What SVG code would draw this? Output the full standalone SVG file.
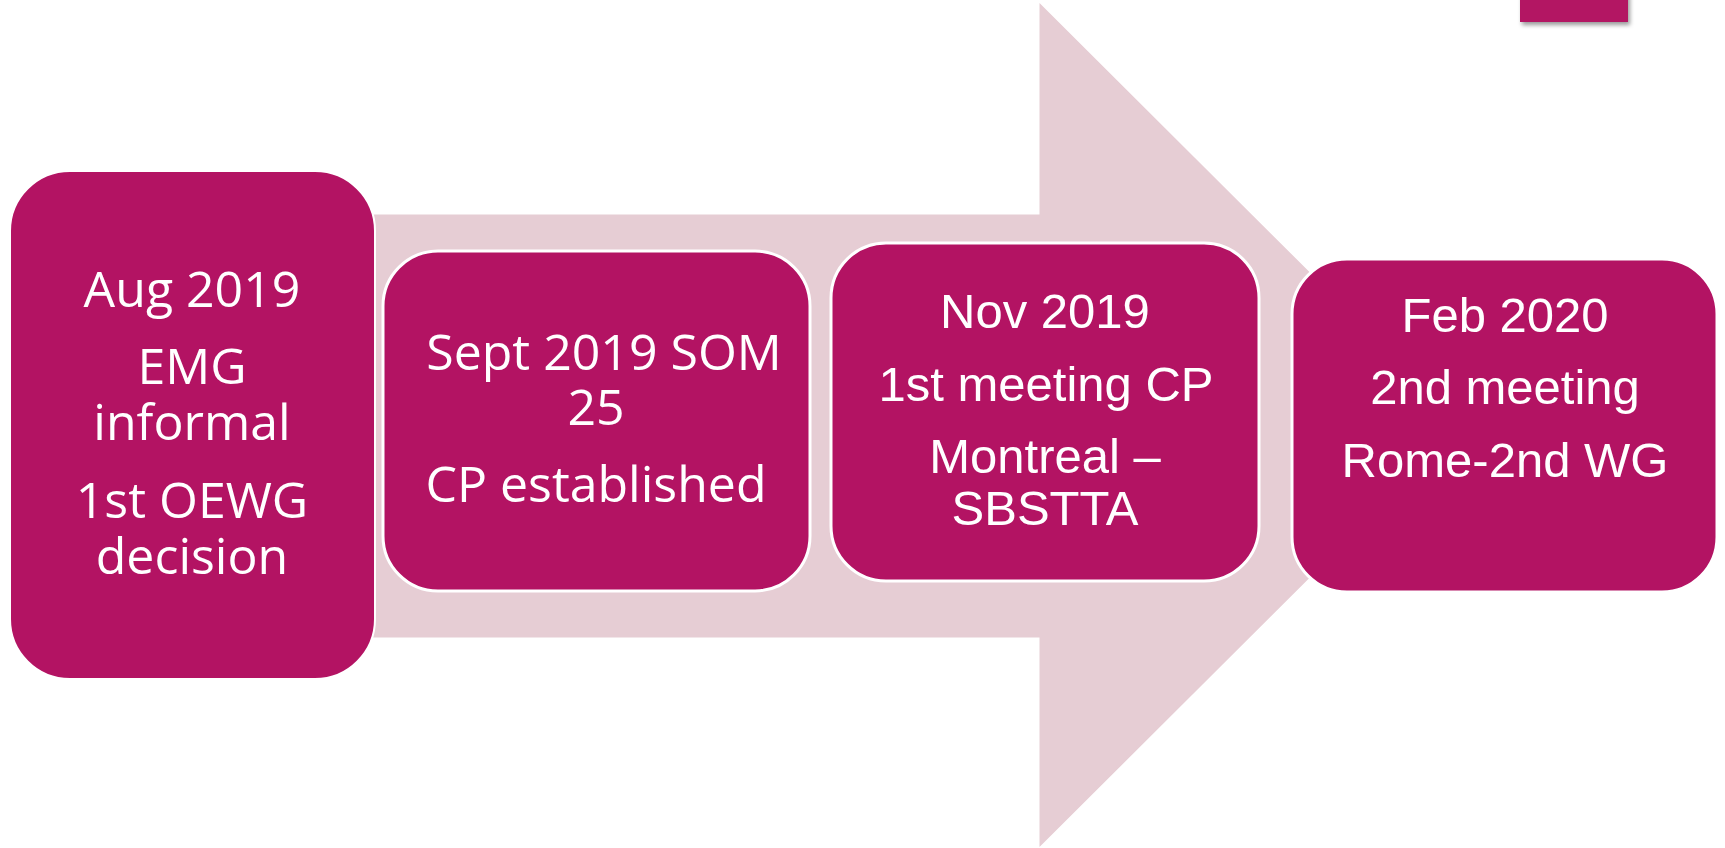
<svg xmlns="http://www.w3.org/2000/svg" width="1725" height="848" viewBox="0 0 1725 848">
<style>
.box{fill:#B31363;stroke:#FFFFFF;stroke-width:3}
.t1{font-family:"Open Sans","Noto Sans","DejaVu Sans",sans-serif;font-size:50px;fill:#FFFFFF;text-anchor:middle}
.t2{font-family:"Liberation Sans",Arial,sans-serif;font-size:49px;fill:#FFFFFF;text-anchor:middle}
</style>
<defs>
<filter id="sh" x="-20%" y="-50%" width="150%" height="250%">
<feDropShadow dx="2" dy="3" stdDeviation="2" flood-color="#000000" flood-opacity="0.4"/>
</filter>
</defs>
<rect x="1520" y="-10" width="108" height="32" fill="#B31363" filter="url(#sh)"/>
<g id="arrow">
<polygon points="340,214.5 1039.5,214.5 1039.5,3 1463,425 1039.5,847 1039.5,637.5 340,637.5" fill="#E6CDD4"/>
</g>
<g id="node1">
<rect class="box" x="10" y="171" width="365" height="508" rx="60" ry="60" style="stroke-width:2"/>
<text class="t1" x="192" y="307">Aug 2019</text>
<text class="t1" x="192" y="384">EMG</text>
<text class="t1" x="192" y="440">informal</text>
<text class="t1" x="192" y="518">1st OEWG</text>
<text class="t1" x="192" y="574">decision</text>
</g>
<g id="node2">
<rect class="box" x="383" y="251" width="427" height="340" rx="55" ry="55"/>
<text class="t1" x="604" y="370">Sept 2019 SOM</text>
<text class="t1" x="596" y="425">25</text>
<text class="t1" x="596" y="502">CP established</text>
</g>
<g id="node3">
<rect class="box" x="831" y="243" width="428" height="338" rx="55" ry="55"/>
<text class="t2" x="1045" y="328">Nov 2019</text>
<text class="t2" x="1046" y="401">1st meeting CP</text>
<text class="t2" x="1045" y="473">Montreal –</text>
<text class="t2" x="1045" y="525">SBSTTA</text>
</g>
<g id="node4">
<rect class="box" x="1292" y="259" width="425" height="333" rx="55" ry="55"/>
<text class="t2" x="1505" y="332">Feb 2020</text>
<text class="t2" x="1505" y="404">2nd meeting</text>
<text class="t2" x="1505" y="477">Rome-2nd WG</text>
</g>
</svg>
